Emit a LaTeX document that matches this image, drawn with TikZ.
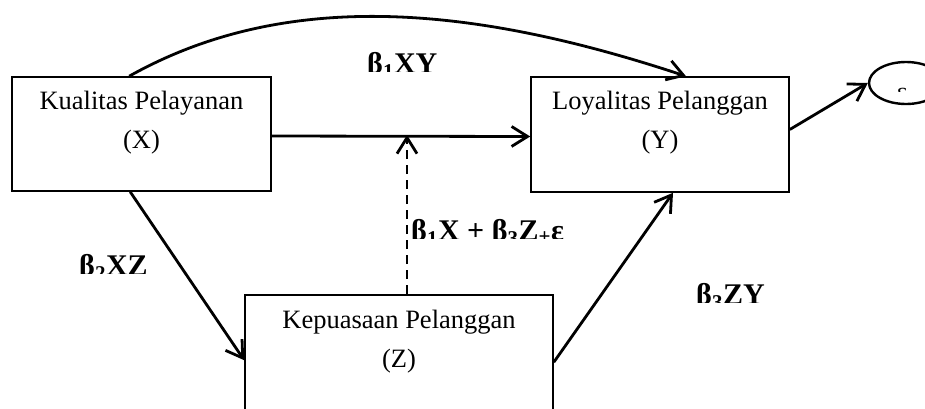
\documentclass[tikz,border=0pt]{standalone}
\usepackage{fontspec}
\setmainfont{Liberation Serif}
\usetikzlibrary{arrows.meta,calc,shapes.geometric}

\tikzset{
  box/.style={draw, line width=1.6pt, minimum width=259pt, minimum height=114pt, inner sep=0pt},
  boxtext/.style={anchor=north, inner sep=0pt, align=center, font=\fontsize{26.5}{39}\selectfont},
  conn/.style={line width=2.8pt, -{Straight Barb[length=16pt,width=20pt,line width=2.8pt]}},
  coef/.style={anchor=base west, inner sep=0pt, font=\fontsize{30}{34}\selectfont\bfseries},
}

\begin{document}
\begin{tikzpicture}[x=1pt, y=-1pt]
  \useasboundingbox (0,0) rectangle (925,408);

  % the three variable boxes
  \node[box] (X) at (141.5,134) {};
  \node[box, minimum width=258pt, minimum height=115pt] (Y) at (660,134.5) {};
  \node[box, minimum width=308pt, minimum height=130pt] (Z) at (399,360) {};

  \node[boxtext] (Xt) at ([yshift=-15pt]X.north) {Kualitas Pelayanan\\(X)};
  \node[boxtext] (Yt) at ([yshift=-15pt]Y.north) {Loyalitas Pelanggan\\(Y)};
  \node[boxtext] (Zt) at ([yshift=-16pt]Z.north) {Kepuasaan Pelanggan\\(Z)};

  % error term
  \node[draw, ellipse, line width=2.4pt, minimum width=74pt, minimum height=42pt, inner sep=0pt] (E) at (906,83) {};
  \begin{scope}
    \clip (880,70) rectangle (925,91);
    \node[anchor=base, inner sep=0pt, font=\fontsize{24}{28}\selectfont] (Et) at (902,99) {ε};
  \end{scope}

  % paths
  \draw[conn] ([xshift=118pt]X.north west) .. controls (290,-14) and (480,8) .. ([xshift=26pt]Y.north);
  \draw[conn] ([yshift=-2pt]X.east) -- ([yshift=-2pt]Y.west);
  \coordinate (M) at ([xshift=8pt]Z.north |- X.east);
  \draw[conn, dash pattern=on 9pt off 6pt] ([xshift=8pt]Z.north) -- ([yshift=-1pt]M);
  \draw[conn] ([xshift=119pt]X.south west) -- ([yshift=-66pt]Z.north west);
  \draw[conn] ([yshift=-68pt]Z.north east) -- ([xshift=13pt]Y.south);
  \draw[conn] ([yshift=5pt]Y.east) -- (E.west);

  % path coefficients
  \begin{scope}
    \clip (360,40) rectangle (470,71);
    \node[coef] (c1) at (367,73) {β\textsubscript{1}XY};
  \end{scope}
  \begin{scope}
    \clip (70,240) rectangle (170,273);
    \node[coef] (c2) at (79,275) {β\textsubscript{2}XZ};
  \end{scope}
  \begin{scope}
    \clip (690,270) rectangle (790,302);
    \node[coef] (c3) at (696,304) {β\textsubscript{3}ZY};
  \end{scope}
  \begin{scope}
    \clip (405,205) rectangle (600,238);
    \node[coef] (c4) at (411,240) {β\textsubscript{1}X + β\textsubscript{3}Z\textsubscript{+}ε};
  \end{scope}
\end{tikzpicture}
\end{document}
